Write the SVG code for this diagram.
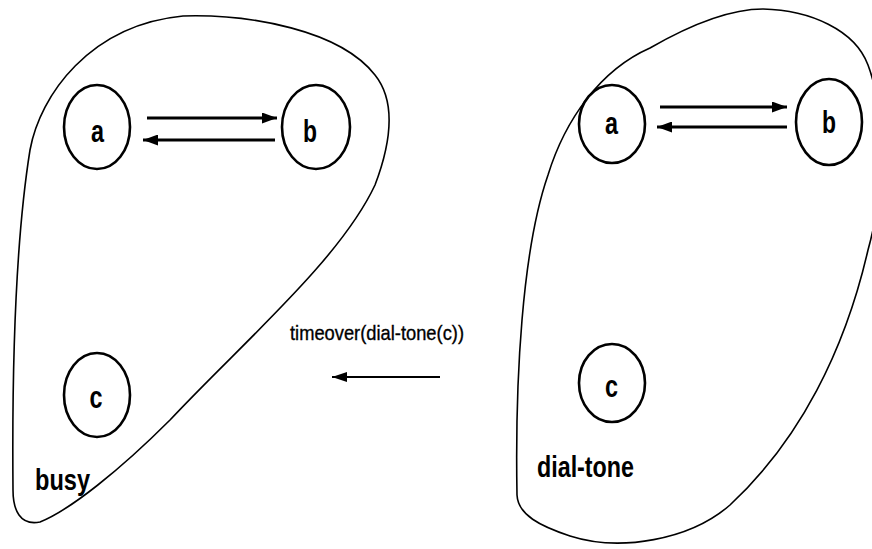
<svg xmlns="http://www.w3.org/2000/svg" width="872" height="549" viewBox="0 0 872 549">
<defs>
<marker id="head" markerUnits="userSpaceOnUse" markerWidth="15" markerHeight="11" refX="15" refY="5.5" orient="auto">
<path d="M0,0 L15,5.5 L0,11 z" fill="#000"/>
</marker>
<marker id="headThin" markerUnits="userSpaceOnUse" markerWidth="15" markerHeight="10" refX="15" refY="5" orient="auto">
<path d="M0,0 L15,5 L0,10 z" fill="#000"/>
</marker>
</defs>
<style>
.blob{fill:none;stroke:#000;stroke-width:1.6}
.st{fill:none;stroke:#000;stroke-width:2.6}
.lt{font-family:"Liberation Sans",Arial,sans-serif;font-size:31px;font-weight:bold;fill:#000;text-anchor:middle}
.lab{font-family:"Liberation Sans",Arial,sans-serif;font-size:30px;font-weight:bold;fill:#000}
.ev{font-family:"Liberation Sans",Arial,sans-serif;font-size:21px;fill:#000;stroke:#000;stroke-width:0.35}
.tr{stroke:#000;stroke-width:3.2;fill:none}
.trThin{stroke:#000;stroke-width:1.8;fill:none}
</style>
<rect width="872" height="549" fill="#fff"/>
<g id="busy">
<path class="blob" d="M183,16 C250,14 340,30 375,75 C395,100 392,140 375,185 C340,260 240,345 170,420 C120,470 70,510 40,522 C20,526 13,510 13,490 C12,380 14,250 30,150 C40,95 90,25 183,16 Z"/>
<text class="lab" x="35" y="490" textLength="55" lengthAdjust="spacingAndGlyphs">busy</text>
</g>
<g id="busy-a">
<ellipse class="st" cx="97" cy="127" rx="33" ry="42"/>
<text class="lt" x="97.5" y="142" textLength="13" lengthAdjust="spacingAndGlyphs">a</text>
</g>
<g id="busy-b">
<ellipse class="st" cx="316" cy="127" rx="34" ry="42"/>
<text class="lt" x="310" y="142" textLength="14" lengthAdjust="spacingAndGlyphs">b</text>
</g>
<g id="busy-c">
<ellipse class="st" cx="97" cy="395" rx="33" ry="42"/>
<text class="lt" x="96" y="408" textLength="13" lengthAdjust="spacingAndGlyphs">c</text>
</g>
<g id="dial-tone">
<path class="blob" d="M763,9 C810,10 855,30 868,65 C885,110 885,190 868,250 C845,350 800,440 730,505 C690,540 620,552 570,536 C540,526 518,515 517,495 C515,380 522,250 548,175 C565,120 600,70 650,48 C690,25 730,9 763,9 Z"/>
<text class="lab" x="537" y="477" textLength="97" lengthAdjust="spacingAndGlyphs">dial-tone</text>
</g>
<g id="dial-tone-a">
<ellipse class="st" cx="612" cy="124" rx="33" ry="39"/>
<text class="lt" x="611.5" y="134" textLength="13" lengthAdjust="spacingAndGlyphs">a</text>
</g>
<g id="dial-tone-b">
<ellipse class="st" cx="829" cy="122" rx="33" ry="43"/>
<text class="lt" x="829" y="133" textLength="14" lengthAdjust="spacingAndGlyphs">b</text>
</g>
<g id="dial-tone-c">
<ellipse class="st" cx="612" cy="383" rx="33" ry="39"/>
<text class="lt" x="611.5" y="397" textLength="13" lengthAdjust="spacingAndGlyphs">c</text>
</g>
<g id="connectors">
<line class="tr" x1="147" y1="118" x2="277" y2="118" marker-end="url(#head)"/>
<line class="tr" x1="275" y1="140" x2="143" y2="140" marker-end="url(#head)"/>
<line class="tr" x1="660" y1="107" x2="787" y2="107" marker-end="url(#head)"/>
<line class="tr" x1="787" y1="127" x2="657" y2="127" marker-end="url(#head)"/>
<line class="trThin" x1="440" y1="377" x2="332" y2="377" marker-end="url(#headThin)"/>
<text class="ev" x="290" y="340" textLength="174" lengthAdjust="spacingAndGlyphs">timeover(dial-tone(c))</text>
</g>
</svg>
